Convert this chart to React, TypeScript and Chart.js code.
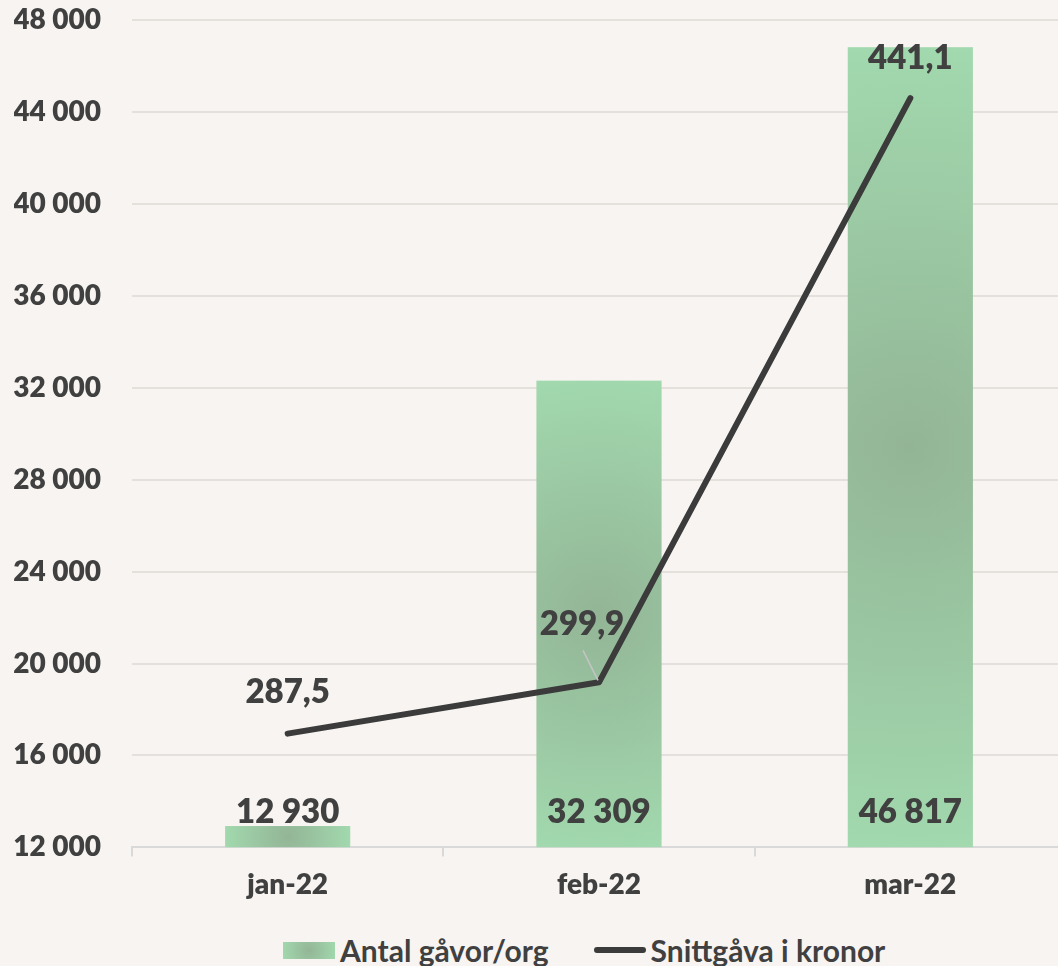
import React, { useEffect, useRef } from 'react';
import { Chart, registerables } from 'chart.js';

Chart.register(...registerables);

// ---- data ----
const categories = ['jan-22', 'feb-22', 'mar-22'];
const giftCounts = [12930, 32309, 46817];
const avgGift = [287.5, 299.9, 441.1];
const seriesNames = ['Antal gåvor/org', 'Snittgåva i kronor'];
const yMin = 12000;
const yMax = 48000;
const yStep = 4000;
const y2Min = 260;
const y2Max = 460;

// ---- style ----
const BG = '#f7f4f1';
const TEXT = '#404040';
const LINE = '#3b3b3b';
const GREEN_LIGHT = '#a2d9ae';
const GREEN_DARK = '#93b596';
const FONT = 'Lato, "Open Sans", sans-serif';
const WEIGHT = '800';
const lineLabelOffsets = [
  [0, -41],
  [-17, -58],
  [0, -40],
];

const fmtInt = (n: number) => String(Math.round(n)).replace(/\B(?=(\d{3})+(?!\d))/g, ' ');
const fmtDec = (n: number) => n.toFixed(1).replace('.', ',');

const gradientBars = {
  id: 'gradientBars',
  beforeDatasetDraw(chart: any, args: any) {
    if (args.index !== 0) return;
    const ctx = chart.ctx;
    const area = chart.chartArea;
    const meta = chart.getDatasetMeta(0);
    ctx.save();
    ctx.beginPath();
    ctx.rect(area.left, area.top, area.right - area.left, area.bottom - area.top);
    ctx.clip();
    meta.data.forEach((el: any) => {
      const w = el.width;
      const left = el.x - w / 2;
      const top = Math.max(Math.min(el.y, el.base), area.top);
      const bottom = Math.min(Math.max(el.y, el.base), area.bottom);
      const h = bottom - top;
      const cx = el.x;
      const cy = top + h / 2;
      const r = Math.sqrt((w / 2) ** 2 + (h / 2) ** 2);
      const g = ctx.createRadialGradient(cx, cy, 0, cx, cy, r);
      g.addColorStop(0, GREEN_DARK);
      g.addColorStop(1, GREEN_LIGHT);
      ctx.fillStyle = g;
      ctx.fillRect(left, top, w, h);
    });
    ctx.restore();
  },
};

const valueLabels = {
  id: 'valueLabels',
  afterDatasetsDraw(chart: any) {
    const ctx = chart.ctx;
    const area = chart.chartArea;
    ctx.save();
    ctx.fillStyle = TEXT;
    ctx.textAlign = 'center';
    ctx.textBaseline = 'middle';
    ctx.font = `${WEIGHT} 33px ${FONT}`;
    const barMeta = chart.getDatasetMeta(0);
    barMeta.data.forEach((el: any, i: number) => {
      const base = Math.min(el.base, area.bottom);
      ctx.fillText(fmtInt(giftCounts[i]), el.x, base - 35);
    });
    const lineMeta = chart.getDatasetMeta(1);
    lineMeta.data.forEach((el: any, i: number) => {
      const [dx, dy] = lineLabelOffsets[i];
      if (i === 1) {
        ctx.save();
        ctx.strokeStyle = '#c4c4c4';
        ctx.lineWidth = 1.5;
        ctx.beginPath();
        ctx.moveTo(el.x - 16, el.y - 32);
        ctx.lineTo(el.x - 1, el.y - 2);
        ctx.stroke();
        ctx.restore();
      }
      ctx.fillText(fmtDec(avgGift[i]), el.x + dx, el.y + dy);
    });
    ctx.restore();
  },
};

export default function App() {
  const canvasRef = useRef<HTMLCanvasElement | null>(null);

  useEffect(() => {
    document.body.style.margin = '0';
    document.body.style.background = BG;
    document.body.style.overflow = 'hidden';
    let chart: Chart | null = null;
    let cancelled = false;
    const make = () => {
      if (cancelled || !canvasRef.current) return;
      chart = new Chart(canvasRef.current, {
        type: 'bar',
        data: {
          labels: categories,
          datasets: [
            {
              type: 'bar',
              label: seriesNames[0],
              data: giftCounts,
              backgroundColor: 'rgba(0,0,0,0)',
              borderWidth: 0,
              barPercentage: 0.402,
              categoryPercentage: 1,
              yAxisID: 'y',
              order: 1,
            },
            {
              type: 'line',
              label: seriesNames[1],
              data: avgGift,
              borderColor: LINE,
              backgroundColor: LINE,
              borderWidth: 6,
              pointRadius: 0,
              pointHoverRadius: 0,
              borderCapStyle: 'round',
              borderJoinStyle: 'round',
              tension: 0,
              yAxisID: 'y1',
              order: 0,
            } as any,
          ],
        },
        options: {
          responsive: false,
          animation: false,
          layout: { padding: { left: 14, top: 0, right: 0, bottom: 0 } },
          plugins: {
            legend: { display: false },
            tooltip: { enabled: false },
          },
          scales: {
            x: {
              offset: true,
              grid: {
                offset: true,
                drawOnChartArea: false,
                drawTicks: true,
                tickLength: 9,
                color: '#d9d9d9',
                lineWidth: 2,
              },
              border: { display: true, color: '#d9d9d9', width: 2 },
              ticks: {
                color: TEXT,
                font: { family: FONT, size: 28, weight: WEIGHT },
                padding: 12,
                maxRotation: 0,
              },
            },
            y: {
              min: yMin,
              max: yMax,
              grid: { color: '#e4e1dd', lineWidth: 2, drawTicks: false },
              border: { display: false },
              ticks: {
                stepSize: yStep,
                color: TEXT,
                font: { family: FONT, size: 28, weight: WEIGHT },
                padding: 31,
                callback: (v: any) => fmtInt(Number(v)),
              },
              afterFit: (scale: any) => {
                scale.width = 118;
                scale.paddingTop = 20;
                scale.paddingBottom = 17;
              },
            },
            y1: {
              display: false,
              position: 'right',
              min: y2Min,
              max: y2Max,
              grid: { drawOnChartArea: false },
            },
          },
        } as any,
        plugins: [gradientBars, valueLabels],
      });
    };
    const fonts: any = (document as any).fonts;
    if (fonts && fonts.load) {
      Promise.all([fonts.load(`${WEIGHT} 28px Lato`), fonts.load(`${WEIGHT} 33px Lato`)])
        .catch(() => null)
        .then(make);
    } else {
      make();
    }
    return () => {
      cancelled = true;
      if (chart) chart.destroy();
    };
  }, []);

  const legendText: React.CSSProperties = {
    font: `bold 30px ${FONT}`,
    color: TEXT,
    whiteSpace: 'nowrap',
    lineHeight: '36px',
  };

  return (
    <div style={{ position: 'relative', width: 1058, height: 966, overflow: 'hidden', background: BG }}>
      <canvas ref={canvasRef} width={1066} height={914} style={{ display: 'block', width: 1066, height: 914 }} />
      <div style={{ position: 'absolute', left: 283, top: 932, display: 'flex', alignItems: 'center' }}>
        <span
          style={{
            display: 'inline-block',
            width: 52,
            height: 17,
            background: `radial-gradient(circle closest-corner at 50% 50%, ${GREEN_DARK}, ${GREEN_LIGHT})`,
            marginRight: 5,
          }}
        />
        <span style={legendText}>{seriesNames[0]}</span>
        <span
          style={{
            display: 'inline-block',
            width: 52,
            height: 6,
            borderRadius: 3,
            background: LINE,
            marginLeft: 45,
            marginRight: 5,
          }}
        />
        <span style={legendText}>{seriesNames[1]}</span>
      </div>
    </div>
  );
}
